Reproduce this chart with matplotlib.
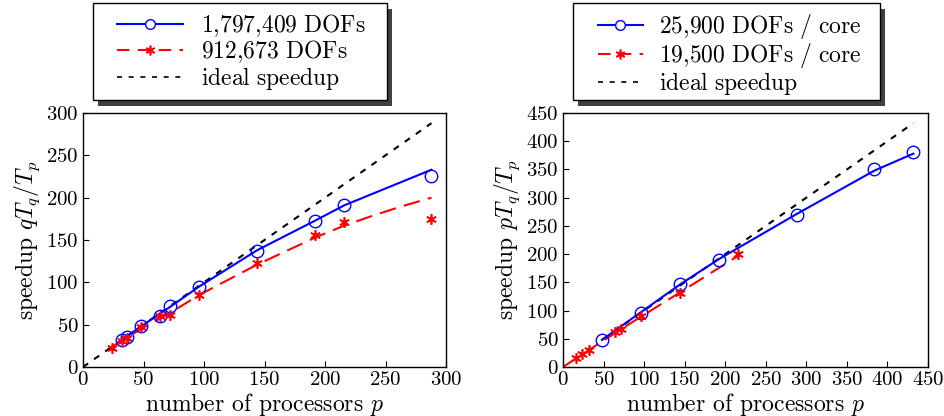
import matplotlib
matplotlib.use("Agg")
import matplotlib.pyplot as plt
from matplotlib.patches import Rectangle
from matplotlib.lines import Line2D

plt.rcParams['font.family'] = 'serif'
plt.rcParams['font.serif'] = ['cmr10']
plt.rcParams['mathtext.fontset'] = 'cm'
plt.rcParams['axes.formatter.use_mathtext'] = True

# ---- left panel data ----
left_p_blue = [32, 36, 48, 64, 72, 96, 144, 192, 216, 288]
left_s_blue = [32, 36, 48, 60, 72, 95, 137, 172, 191, 225]
left_p_red = [24, 32, 36, 48, 64, 72, 96, 144, 192, 216, 288]
left_s_red = [23, 31, 34, 47, 60, 61, 85, 123, 156, 171, 175]
left_fit_blue_p = [32, 48, 72, 96, 144, 192, 216, 240, 264, 288]
left_fit_blue_s = [32, 48, 71, 95, 138, 173, 191, 205, 219, 233]
left_fit_red_p = [24, 48, 72, 96, 144, 192, 216, 240, 264, 288]
left_fit_red_s = [24, 45, 64, 85, 121, 153, 167, 179, 190, 200]
left_ideal = [0, 288]
left_labels = [r'$\mathrm{1{,}797{,}409\ DOFs}$', r'$\mathrm{912{,}673\ DOFs}$',
               r'$\mathrm{ideal\ speedup}$']

# ---- right panel data ----
right_p_blue = [48, 96, 144, 192, 288, 384, 432]
right_s_blue = [48, 96, 147, 190, 270, 350, 381]
right_p_red = [16, 24, 32, 64, 72, 96, 144, 216]
right_s_red = [16, 23, 31, 62, 68, 90, 131, 200]
right_fit_blue_p = [48, 96, 144, 192, 288, 384, 432]
right_fit_blue_s = [48, 97, 146, 191, 271, 348, 378]
right_fit_red_p = [0, 32, 64, 96, 144, 216]
right_fit_red_s = [0, 30, 60, 89, 132, 197]
right_ideal = [48, 432]
right_labels = [r'$\mathrm{25{,}900\ DOFs\ /\ core}$', r'$\mathrm{19{,}500\ DOFs\ /\ core}$',
                r'$\mathrm{ideal\ speedup}$']

W, H = 944, 416
fig = plt.figure(figsize=(W/100, H/100), dpi=100)
axL = fig.add_axes([83/W, 49/H, 363/W, 254/H])
axR = fig.add_axes([563/W, 49/H, 365/W, 254/H])

blue = '#0000ff'
red = '#ff0000'
star = (6, 2, 0)

def style(ax, xmax, ymax, ylabel):
    ax.set_xlim(0, xmax)
    ax.set_ylim(0, ymax)
    ax.set_xticks(range(0, xmax + 1, 50))
    ax.set_yticks(range(0, ymax + 1, 50))
    ax.tick_params(direction='in', length=4, width=0.8, labelsize=15,
                   top=False, right=False, pad=3)
    for s in ax.spines.values():
        s.set_linewidth(1.0)
    ax.set_xlabel(r'number of processors $p$', fontsize=17, labelpad=1)
    ax.set_ylabel(ylabel, fontsize=17, labelpad=3)

# left
axL.plot(left_ideal, left_ideal, color='k', lw=1.5, dashes=(3, 3.5))
axL.plot(left_fit_red_p, left_fit_red_s, color=red, lw=1.5, dashes=(8, 4))
axL.plot(left_fit_blue_p, left_fit_blue_s, color=blue, lw=1.5)
axL.plot(left_p_blue, left_s_blue, ls='none', marker='o', ms=9, mfc='none', mec=blue, mew=1.0)
axL.plot(left_p_red, left_s_red, ls='none', marker=star, ms=7.5, mec=red, mfc=red, mew=1.2)
style(axL, 300, 300, r'speedup $qT_q/T_p$')

# right
axR.plot(right_ideal, right_ideal, color='k', lw=1.5, dashes=(3, 3.5))
axR.plot(right_fit_red_p, right_fit_red_s, color=red, lw=1.5, dashes=(8, 4))
axR.plot(right_fit_blue_p, right_fit_blue_s, color=blue, lw=1.5)
axR.plot(right_p_blue, right_s_blue, ls='none', marker='o', ms=9, mfc='none', mec=blue, mew=1.0)
axR.plot(right_p_red, right_s_red, ls='none', marker=star, ms=7.5, mec=red, mfc=red, mew=1.2)
style(axR, 450, 450, r'speedup $pT_q/T_p$')

def make_legend(labels, handle_x, handlelength, handletextpad, box):
    handles = [
        Line2D([], [], color=blue, lw=1.5, marker='o', ms=7, mfc='white', mec=blue, mew=1.0),
        Line2D([], [], color=red, lw=1.5, dashes=(6, 4), marker=star, ms=7, mec=red, mfc=red, mew=1.2),
        Line2D([], [], color='k', lw=1.2, dashes=(3, 4)),
    ]
    leg = fig.legend(handles, labels, loc='upper left',
                     bbox_to_anchor=(handle_x/W, 1 - 12/H),
                     bbox_transform=fig.transFigure, fontsize=17, frameon=False,
                     handlelength=handlelength, borderpad=0, labelspacing=0.0,
                     handletextpad=handletextpad, borderaxespad=0)
    leg.set_zorder(10)
    x0, y0, x1, y1 = box
    fig.patches.append(Rectangle((x0 + 5, H - y1 - 6), x1 - x0, y1 - y0,
                                 transform=None, facecolor='#404040', edgecolor='none',
                                 zorder=8, figure=fig))
    fig.patches.append(Rectangle((x0, H - y1), x1 - x0, y1 - y0,
                                 transform=None, facecolor='white', edgecolor='black',
                                 lw=1.0, zorder=9, figure=fig))
    return leg

make_legend(left_labels, 117, 2.8, 0.77, (93, 3, 387, 100))
make_legend(right_labels, 598, 1.9, 0.69, (573, 3, 880, 100))

fig.savefig('out.png', dpi=100)
